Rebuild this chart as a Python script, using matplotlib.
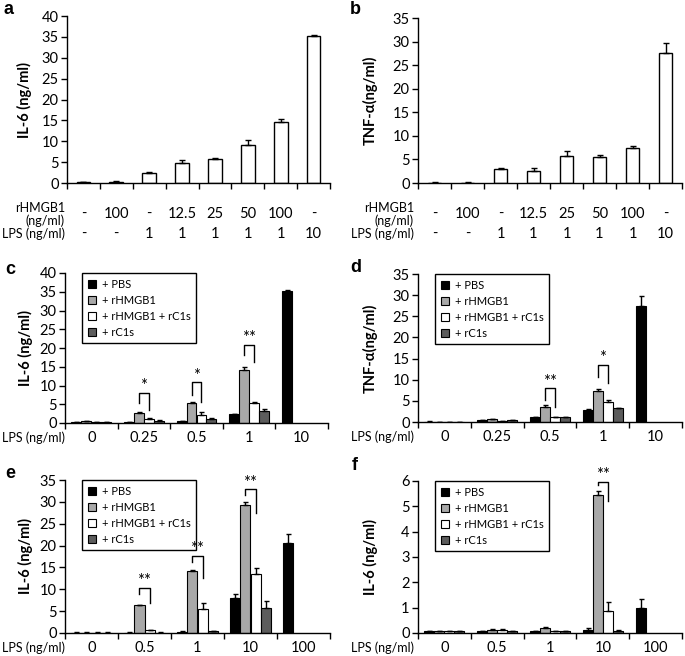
import numpy as np
import matplotlib
matplotlib.use('Agg')
from matplotlib import pyplot as plt
from matplotlib.transforms import blended_transform_factory
from matplotlib.patches import Patch

plt.rcParams['font.family'] = ['Lato', 'DejaVu Sans']

W, H = 685, 656

# panels a/b: single series
rhmgb1_labels = ['-', '100', '-', '12.5', '25', '50', '100', '-']
lps_ab_labels = ['-', '-', '1', '1', '1', '1', '1', '10']
il6_a = [0.2, 0.3, 2.4, 4.7, 5.8, 9.2, 14.5, 35.1]
il6_a_err = [0.05, 0.15, 0.2, 0.7, 0.3, 1.1, 0.9, 0.3]
tnf_b = [0.1, 0.1, 3.0, 2.6, 5.7, 5.6, 7.4, 27.5]
tnf_b_err = [0.05, 0.05, 0.15, 0.5, 1.0, 0.4, 0.4, 2.3]

# panels c-f: four series per group
series_names = ['+ PBS', '+ rHMGB1', '+ rHMGB1 + rC1s', '+ rC1s']
series_colors = ['#000000', '#a8a8a8', '#ffffff', '#5c5c5c']

lps_cd = ['0', '0.25', '0.5', '1', '10']
lps_ef = ['0', '0.5', '1', '10', '100']

il6_c = [[0.3, 0.2, 0.5, 2.3, 35.2],
         [0.5, 2.8, 5.3, 14.2, None],
         [0.3, 1.1, 2.2, 5.3, None],
         [0.3, 0.6, 1.2, 3.2, None]]
il6_c_err = [[0.05, 0.05, 0.1, 0.2, 0.3],
             [0.1, 0.2, 0.2, 0.8, 0],
             [0.05, 0.3, 0.7, 0.3, 0],
             [0.05, 0.1, 0.1, 0.5, 0]]
tnf_d = [[0.1, 0.4, 1.1, 2.9, 27.5],
         [0.05, 0.6, 3.6, 7.3, None],
         [0.05, 0.3, 1.2, 4.8, None],
         [0.05, 0.45, 1.1, 3.3, None]]
tnf_d_err = [[0.02, 0.05, 0.2, 0.1, 2.4],
             [0.02, 0.05, 0.4, 0.4, 0],
             [0.02, 0.05, 0.1, 0.3, 0],
             [0.02, 0.05, 0.1, 0.1, 0]]
il6_e = [[0.1, 0.1, 0.3, 8.0, 20.6],
         [0.1, 6.3, 14.2, 29.2, None],
         [0.1, 0.6, 5.5, 13.5, None],
         [0.1, 0.1, 0.4, 5.7, None]]
il6_e_err = [[0.02, 0.02, 0.05, 0.9, 2.1],
             [0.02, 0.2, 0.2, 0.7, 0],
             [0.02, 0.1, 1.4, 1.4, 0],
             [0.02, 0.02, 0.1, 1.6, 0]]
il6_f = [[0.07, 0.07, 0.07, 0.13, 0.98],
         [0.07, 0.13, 0.2, 5.45, None],
         [0.07, 0.12, 0.08, 0.87, None],
         [0.07, 0.07, 0.07, 0.08, None]]
il6_f_err = [[0.01, 0.01, 0.01, 0.05, 0.37],
             [0.01, 0.02, 0.03, 0.15, 0],
             [0.01, 0.04, 0.01, 0.35, 0],
             [0.01, 0.01, 0.01, 0.02, 0]]

# significance brackets: (group, top, left leg bottom, right leg bottom, stars)
brackets_c = [(1, 8.0, 5.3, 3.5, '*'), (2, 10.9, 7.5, 5.6, '*'), (3, 20.8, 18.1, 16.3, '**')]
brackets_d = [(2, 8.0, 5.2, 3.5, '**'), (3, 13.5, 10.6, 9.2, '*')]
brackets_e = [(1, 10.3, 8.9, 6.8, '**'), (2, 17.6, 16.2, 12.6, '**'), (3, 32.9, 31.6, 27.4, '**')]
brackets_f = [(3, 5.97, 5.85, 5.2, '**')]


def px_axes(l, t, r, b):
    return fig.add_axes([l / W, 1 - b / H, (r - l) / W, (b - t) / H])


def style_axes(ax, n, ymax, ystep):
    ax.set_xlim(0, n)
    ax.set_ylim(0, ymax)
    ax.set_yticks(np.arange(0, ymax + 0.01, ystep))
    ax.spines['top'].set_visible(False)
    ax.spines['right'].set_visible(False)
    for s in ['left', 'bottom']:
        ax.spines[s].set_linewidth(1.0)
    ax.tick_params(axis='y', direction='out', length=4, width=1, labelsize=10.5, pad=2)
    ax.set_xticks(np.arange(n) + 0.5)
    ax.set_xticks(np.arange(n + 1), minor=True)
    ax.tick_params(axis='x', which='major', length=0, labelsize=10.5, pad=6)
    ax.tick_params(axis='x', which='minor', direction='out', length=4, width=1)


def ylabel(ax, text, px):
    ax.set_ylabel(text, fontsize=10.5, fontweight='bold')
    l = ax.get_position().x0 * W
    w = ax.get_position().width * W
    ax.yaxis.set_label_coords((px - l) / w, 0.5)


def letter(ch, px, py):
    fig.text(px / W, 1 - py / H, ch, fontsize=13, fontweight='bold',
             family='Liberation Sans', ha='left', va='center')


def single_panel(ax, vals, errs):
    n = len(vals)
    x = np.arange(n) + 0.5
    ax.bar(x, vals, width=0.42, color='white', edgecolor='black', linewidth=1, zorder=2)
    ax.errorbar(x, vals, yerr=[np.zeros(n), errs], fmt='none', ecolor='black',
                elinewidth=1, capsize=2, capthick=1, zorder=3)
    ax.set_xticklabels([])


def group_panel(ax, data, errs, brackets, groups, lps_px):
    n = len(groups)
    w = 0.19
    centers = np.arange(n) + 0.5
    for i, (vals, ev) in enumerate(zip(data, errs)):
        xs = [centers[g] + (i - 1.5) * w for g in range(n) if vals[g] is not None]
        vs = [vals[g] for g in range(n) if vals[g] is not None]
        es = [ev[g] for g in range(n) if vals[g] is not None]
        ax.bar(xs, vs, width=w, color=series_colors[i], edgecolor='black',
               linewidth=0.8, zorder=2)
        ax.errorbar(xs, vs, yerr=[np.zeros(len(vs)), es], fmt='none', ecolor='black',
                    elinewidth=1, capsize=1.8, capthick=1, zorder=3)
    handles = [Patch(facecolor=c, edgecolor='black', linewidth=0.8) for c in series_colors]
    leg = ax.legend(handles, series_names, loc='upper left', bbox_to_anchor=(0.065, 1.0),
                    fontsize=8, frameon=True, fancybox=False, edgecolor='black',
                    framealpha=1, handlelength=0.75, handleheight=0.75, handletextpad=0.5,
                    labelspacing=0.45, borderpad=0.5, borderaxespad=0)
    leg.get_frame().set_linewidth(1)
    leg.set_zorder(4)
    for g, top, lb, rb, stars in brackets:
        xl = centers[g] - 0.5 * w
        xr = centers[g] + 0.5 * w
        ax.plot([xl, xl, xr, xr], [lb, top, top, rb], color='black', lw=1, zorder=5)
        ax.annotate(stars, ((xl + xr) / 2, top), xytext=(0, -1), textcoords='offset points',
                    ha='center', va='bottom', fontsize=12, zorder=6)
    ax.set_xticklabels(groups)
    fig.text(lps_px[0] / W, 1 - lps_px[1] / H, 'LPS (ng/ml)', ha='right', va='center',
             fontsize=9)


fig = plt.figure(figsize=(W / 100, H / 100), dpi=100)

# a
ax_a = px_axes(67, 16, 330, 183)
style_axes(ax_a, 8, 40, 5)
single_panel(ax_a, il6_a, il6_a_err)
ylabel(ax_a, 'IL-6 (ng/ml)', 32)
letter('a', 3, 9)

# b
ax_b = px_axes(418, 18, 682, 183)
style_axes(ax_b, 8, 35, 5)
single_panel(ax_b, tnf_b, tnf_b_err)
ylabel(ax_b, 'TNF-α(ng/ml)', 378)
letter('b', 350, 9)

for ax, lx in [(ax_a, 65), (ax_b, 414)]:
    tr = blended_transform_factory(ax.transData, fig.transFigure)
    for i, (r, l) in enumerate(zip(rhmgb1_labels, lps_ab_labels)):
        ax.text(i + 0.5, 1 - 214 / H, r, transform=tr, ha='center', va='center', fontsize=10.5)
        ax.text(i + 0.5, 1 - 234 / H, l, transform=tr, ha='center', va='center', fontsize=10.5)
    fig.text(lx / W, 1 - 208 / H, 'rHMGB1', ha='right', va='center', fontsize=9)
    fig.text(lx / W, 1 - 221 / H, '(ng/ml)', ha='right', va='center', fontsize=9)
    fig.text(lx / W, 1 - 234 / H, 'LPS (ng/ml)', ha='right', va='center', fontsize=9)

# c
ax_c = px_axes(65, 273, 328, 423)
style_axes(ax_c, 5, 40, 5)
group_panel(ax_c, il6_c, il6_c_err, brackets_c, lps_cd, (65, 438))
ylabel(ax_c, 'IL-6 (ng/ml)', 33)
letter('c', 5, 269)

# d
ax_d = px_axes(418, 274, 682, 422)
style_axes(ax_d, 5, 35, 5)
group_panel(ax_d, tnf_d, tnf_d_err, brackets_d, lps_cd, (414, 437))
ylabel(ax_d, 'TNF-α(ng/ml)', 378)
letter('d', 350, 268)

# e
ax_e = px_axes(65, 480, 330, 633)
style_axes(ax_e, 5, 35, 5)
group_panel(ax_e, il6_e, il6_e_err, brackets_e, lps_ef, (65, 648))
ylabel(ax_e, 'IL-6 (ng/ml)', 33)
letter('e', 5, 473)

# f
ax_f = px_axes(418, 481, 682, 633)
style_axes(ax_f, 5, 6, 1)
group_panel(ax_f, il6_f, il6_f_err, brackets_f, lps_ef, (414, 648))
ylabel(ax_f, 'IL-6 (ng/ml)', 378)
letter('f', 352, 466)

fig.savefig('out.png', dpi=100)
